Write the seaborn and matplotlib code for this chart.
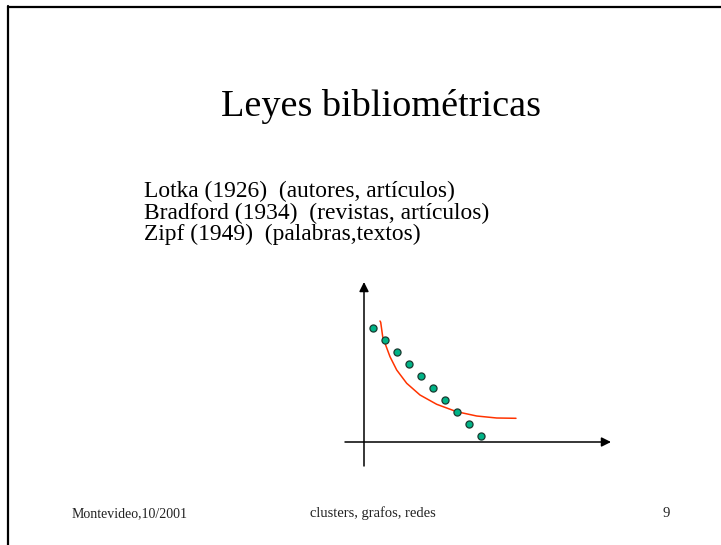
import matplotlib
matplotlib.use("Agg")
import matplotlib.pyplot as plt
from matplotlib.lines import Line2D
import seaborn as sns

# ---- data (units relative to the axes origin) ----
point_x = [9, 21, 33, 45, 57, 69, 81, 93, 105, 117]
point_y = [114, 102, 90, 78, 66, 54, 42, 30, 18, 6]
curve_x = [16.0, 16.7, 18.7, 21.0, 26.0, 32.7, 42.7, 56.0, 72.7, 92.7, 112.7, 132.7, 152.0]
curve_y = [121.0, 119.7, 105.3, 98.7, 85.3, 72.0, 58.7, 47.0, 37.7, 30.3, 26.0, 24.0, 23.7]

title = "Leyes bibliométricas"
body_lines = [
    "Lotka (1926)  (autores, artículos)",
    "Bradford (1934)  (revistas, artículos)",
    "Zipf (1949)  (palabras,textos)",
]
footer_left = "Montevideo,10/2001"
footer_center = "clusters, grafos, redes"
footer_right = "9"

sns.set_theme(style="white")
plt.rcParams["font.family"] = ["Liberation Serif", "DejaVu Serif"]

W, H = 721, 545
fig = plt.figure(figsize=(W / 100, H / 100), dpi=100)
fig.patch.set_facecolor("white")

def fx(px):
    return px / W

def fy(py):
    return 1 - py / H

# slide frame (top and left edges)
fig.add_artist(Line2D([fx(8), fx(721)], [fy(7), fy(7)], color="black", lw=1.6))
fig.add_artist(Line2D([fx(8), fx(8)], [fy(6), fy(545)], color="black", lw=1.6))

# texts
fig.text(fx(381), fy(116), title, fontsize=27.5, ha="center", va="baseline", color="black")
for i, line in enumerate(body_lines):
    fig.text(fx(144), fy(197 + 21.7 * i), line, fontsize=16.9, ha="left", va="baseline", color="black")
fig.text(fx(72), fy(517), footer_left, fontsize=10, ha="left", va="baseline", color="#222222")
fig.text(fx(373), fy(517), footer_center, fontsize=10.5, ha="center", va="baseline", color="#222222")
fig.text(fx(666), fy(517), footer_right, fontsize=10.5, ha="center", va="baseline", color="#222222")

# chart axes: 1 data unit = 1 pixel, origin at pixel (364, 442)
ox, oy = 364, 442
L, R, T, B = 330, 630, 270, 475
ax = fig.add_axes([fx(L), fy(B), (R - L) / W, (B - T) / H])
ax.set_xlim(L - ox, R - ox)
ax.set_ylim(oy - B, oy - T)
ax.axis("off")

# axis arrows
ax.annotate("", xy=(0, oy - 282), xytext=(0, oy - 466),
            arrowprops=dict(arrowstyle="-|>", color="black", lw=1.1,
                            mutation_scale=14, shrinkA=0, shrinkB=0))
ax.annotate("", xy=(611 - ox, 0), xytext=(345 - ox, 0),
            arrowprops=dict(arrowstyle="-|>", color="black", lw=1.1,
                            mutation_scale=14, shrinkA=0, shrinkB=0))

sns.lineplot(x=curve_x, y=curve_y, sort=False, ax=ax, color="#FF3300", lw=1.1, legend=False)
sns.scatterplot(x=point_x, y=point_y, ax=ax, s=26, color="#00B386",
                edgecolor="#1a3a30", linewidth=0.9, zorder=5, legend=False)

fig.savefig("out.png", dpi=100, facecolor="white")
